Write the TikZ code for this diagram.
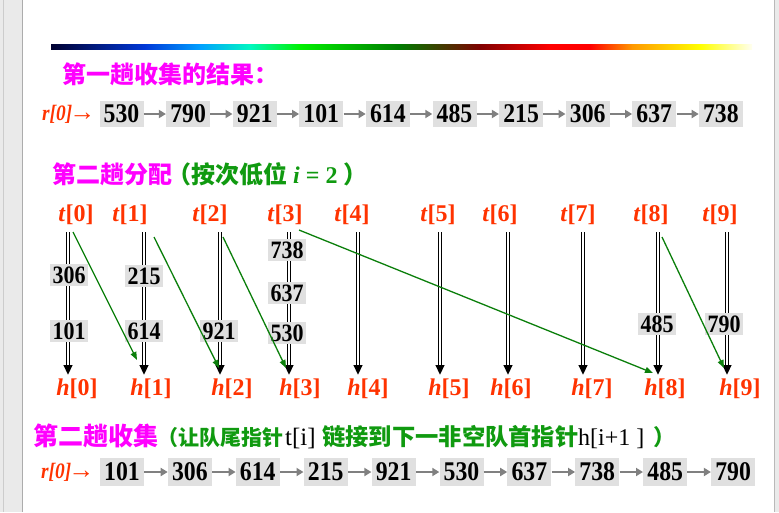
\documentclass[tikz,border=0pt]{standalone}
\usepackage{fontspec}
\setmainfont{Liberation Serif}
\newfontfamily\cjk{Noto Sans CJK SC}
\newfontfamily\numfont{Liberation Serif}[FakeStretch=0.88]
\usetikzlibrary{arrows.meta}
\definecolor{tmag}{HTML}{FF00FF}
\definecolor{tgreen}{HTML}{109A10}
\definecolor{agreen}{HTML}{0B7F0B}
\definecolor{tred}{HTML}{FF3300}
\definecolor{boxgray}{HTML}{E0E0E0}
\definecolor{arrgray}{HTML}{808080}
\definecolor{framegray}{HTML}{EAEAEA}
\definecolor{c0}{HTML}{000030}
\definecolor{c1}{HTML}{0038D8}
\definecolor{c2}{HTML}{00A0FF}
\definecolor{c3}{HTML}{00F8C0}
\definecolor{c4}{HTML}{00F000}
\definecolor{c5}{HTML}{007A00}
\definecolor{c6}{HTML}{800000}
\definecolor{c7}{HTML}{FF0000}
\definecolor{c8}{HTML}{FF0000}
\definecolor{c9}{HTML}{FF9900}
\definecolor{c10}{HTML}{FFFF00}
\definecolor{c11}{HTML}{FFFFF0}
\tikzset{
  rowbox/.style={fill=boxgray, inner sep=0pt, minimum width=44pt, minimum height=26pt,
    font=\numfont\bfseries\fontsize{27}{27}\selectfont},
  rowboxb/.style={rowbox, minimum height=28pt},
  colbox/.style={fill=boxgray, inner sep=0pt, minimum width=38pt, minimum height=22pt,
    font=\numfont\bfseries\fontsize{25}{25}\selectfont},
  grayarr/.style={draw=arrgray, line width=2.6pt, -{Triangle[length=7pt,width=8pt]}},
  dblouter/.style={draw=black, line width=3.6pt, -{Triangle[length=10pt,width=8.5pt]}},
  dblinner/.style={draw=white, line width=1.6pt, shorten >=10pt},
  garr/.style={draw=agreen, line width=1.3pt, -{Triangle[length=8pt,width=6pt]}},
  lab/.style={text=tred, inner sep=0pt, font=\bfseries\fontsize{24}{24}\selectfont},
  rlab/.style={text=tred, inner sep=0pt, anchor=west,
    font=\numfont\bfseries\itshape\fontsize{22}{22}\selectfont},
  cjkt/.style={inner sep=0pt, font=\cjk\bfseries\fontsize{24}{24}\selectfont}
}
\newcommand{\rarrow}{{\kern-3pt\rmfamily\mdseries\upshape\fontsize{26}{20}\selectfont →}}
\begin{document}
\begin{tikzpicture}[x=1pt,y=-1pt]
\useasboundingbox (0,0) rectangle (779,512);
\fill[white] (0,0) rectangle (779,512);
% slide frame
\fill[framegray] (0,0) rectangle (23,512);
\draw[gray!40, line width=0.8pt] (3.5,0) -- (3.5,512);
\draw[gray!65, line width=1.2pt] (22.5,0) -- (22.5,512);
\fill[framegray] (774,0) rectangle (779,512);
\draw[gray!55, line width=1pt] (774.5,0) -- (774.5,512);
% rainbow bar
\shade[left color=c0,right color=c1] (51,44) rectangle (145.5,49.5);
\shade[left color=c1,right color=c2] (145,44) rectangle (200.5,49.5);
\shade[left color=c2,right color=c3] (200,44) rectangle (250.5,49.5);
\shade[left color=c3,right color=c4] (250,44) rectangle (300.5,49.5);
\shade[left color=c4,right color=c5] (300,44) rectangle (400.5,49.5);
\shade[left color=c5,right color=c6] (400,44) rectangle (480.5,49.5);
\shade[left color=c6,right color=c7] (480,44) rectangle (550.5,49.5);
\shade[left color=c7,right color=c8] (550,44) rectangle (590.5,49.5);
\shade[left color=c8,right color=c9] (590,44) rectangle (632.5,49.5);
\shade[left color=c9,right color=c10] (632,44) rectangle (700.5,49.5);
\shade[left color=c10,right color=c11] (700,44) rectangle (752,49.5);
% title 1
\node[cjkt, text=tmag, anchor=west] (title1) at (62,74) {第一趟收集的结果：};
% row 1
\node[rlab] (r1) at (42,114) {r[0]\rarrow};
\foreach \v [count=\k from 0] in {530,790,921,101,614,485,215,306,637,738}{
  \node[rowbox] (a\k) at ({121.5+66.6*\k},114) {\v};
}
\foreach \k [evaluate=\k as \n using int(\k+1)] in {0,...,8}{
  \draw[grayarr] (a\k) -- (a\n);
}
% title 2
\node[cjkt, anchor=west] (title2) at (52,174)
  {{\color{tmag}第二趟分配}\kern-5pt{\color{tgreen}（按次低位}{\color{tgreen}\rmfamily\bfseries\ \textit{i} = 2\ }{\color{tgreen}）}};
% t and h labels
\foreach \x [count=\k from 0] in {76,130,210,285,352,438,500,578,651,720}{
  \node[lab] (t\k) at (\x,215) {\textit{t}[\k]};
}
\foreach \x [count=\k from 0] in {77,151,232,300,368,449,511,592,665,740}{
  \node[lab] (h\k) at (\x,389) {\textit{h}[\k]};
}
% vertical double lines
\foreach \lx [count=\k from 0] in {68,144,220,289,358,440,508,583,658,727}{
  \coordinate (top\k) at (\lx,232);
  \coordinate (bot\k) at (\lx,375);
  \draw[dblouter] (top\k) -- (bot\k);
  \draw[dblinner] (top\k) -- (bot\k);
}
% column boxes
\node[colbox] (c306) at (69,275) {306};
\node[colbox] (c101) at (69,331) {101};
\node[colbox] (c215) at (144,276) {215};
\node[colbox] (c614) at (144,331) {614};
\node[colbox] (c921) at (219,331) {921};
\node[colbox] (c738) at (287,250) {738};
\node[colbox] (c637) at (287,293) {637};
\node[colbox] (c530) at (287,333) {530};
\node[colbox] (c485) at (657,324) {485};
\node[colbox] (c790) at (724,324) {790};
% green link arrows
\coordinate (gs1) at (73,232);  \coordinate (ge1) at (137,360);
\coordinate (gs2) at (154,237); \coordinate (ge2) at (219,368);
\coordinate (gs3) at (223,237); \coordinate (ge3) at (286,368);
\coordinate (gs4) at (299,230); \coordinate (ge4) at (653,373);
\coordinate (gs5) at (662,237); \coordinate (ge5) at (724,368);
\foreach \i in {1,...,5}{ \draw[garr] (gs\i) -- (ge\i); }
% title 3
\node[cjkt, text=tmag, anchor=base west, font=\cjk\bfseries\fontsize{25}{25}\selectfont] (t3a) at (33,445) {第二趟收集};
\node[cjkt, text=tgreen, anchor=base west, font=\cjk\bfseries\fontsize{21}{21}\selectfont] (t3b) at (157,445) {（让队尾指针};
\node[anchor=base west, inner sep=0pt, font=\fontsize{25}{25}\selectfont] (t3c) at (285,445) {t[i]};
\node[cjkt, text=tgreen, anchor=base west, font=\cjk\bfseries\fontsize{23.3}{23.3}\selectfont] (t3d) at (322,445) {链接到下一非空队首指针};
\node[anchor=base west, inner sep=0pt, font=\fontsize{24}{24}\selectfont] (t3e) at (578,445) {h[i+1 ]};
\node[cjkt, text=tgreen, anchor=base west, font=\cjk\bfseries\fontsize{22}{22}\selectfont] (t3f) at (653,445) {）};
% row 2
\node[rlab] (r2) at (41,472) {r[0]\rarrow};
\foreach \v [count=\k from 0] in {101,306,614,215,921,530,637,738,485,790}{
  \node[rowboxb] (b\k) at ({122+67.9*\k},472) {\v};
}
\foreach \k [evaluate=\k as \n using int(\k+1)] in {0,...,8}{
  \draw[grayarr] (b\k) -- (b\n);
}
\end{tikzpicture}
\end{document}
